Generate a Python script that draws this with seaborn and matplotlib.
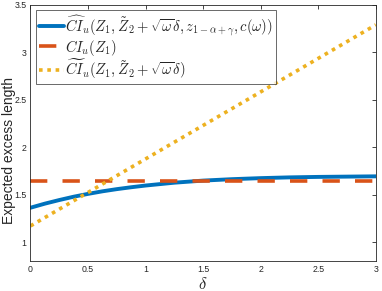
import numpy as np
import pandas as pd
import matplotlib
matplotlib.use("Agg")
import matplotlib.pyplot as plt
import seaborn as sns

delta_blue = [0, 0.125, 0.25, 0.375, 0.5, 0.625, 0.75, 0.875, 1.0, 1.25, 1.5, 1.75, 2.0, 2.25, 2.5, 2.75, 3.0]
ci_hat = [1.362, 1.405, 1.443, 1.478, 1.508, 1.535, 1.558, 1.578, 1.596, 1.626, 1.648, 1.663, 1.674, 1.682, 1.687, 1.690, 1.693]
delta_red = [0, 3]
ci_u = [1.645, 1.645]
delta_yel = [0, 1.5, 3]
ci_tilde = [1.17, 2.23, 3.29]

labels = [r"$\widehat{CI}_u(Z_1,\tilde{Z}_2+\sqrt{\omega}\delta,z_{1-\alpha+\gamma},c(\omega))$",
          r"$CI_u(Z_1)$",
          r"$\widetilde{CI}_u(Z_1,\tilde{Z}_2+\sqrt{\omega}\delta)$"]
colors = ["#0072BD", "#D95319", "#EDB120"]
xticks = [0, 0.5, 1, 1.5, 2, 2.5, 3]
yticks = [1, 1.5, 2, 2.5, 3, 3.5]

sns.set_style("white")
plt.rcParams["font.family"] = ["Liberation Sans", "DejaVu Sans"]
plt.rcParams["mathtext.fontset"] = "cm"

fig = plt.figure(figsize=(3.82, 2.91), dpi=100)
ax = fig.add_axes([0.0798, 0.103, 0.904, 0.880])

sns.lineplot(x=delta_blue, y=ci_hat, ax=ax, color=colors[0], lw=2.8, label=labels[0])
sns.lineplot(x=delta_red, y=ci_u, ax=ax, color=colors[1], lw=2.6, label=labels[1])
ax.lines[-1].set_dashes([4.8, 4.2])
sns.lineplot(x=delta_yel, y=ci_tilde, ax=ax, color=colors[2], lw=2.6, label=labels[2])
ax.lines[-1].set_dashes([1, 1.3])

ax.set_xlim(0, 3)
ax.set_ylim(0.8, 3.5)
ax.set_xticks(xticks)
ax.set_xticklabels([f"{t:g}" for t in xticks])
ax.set_yticks(yticks)
ax.set_yticklabels([f"{t:g}" for t in yticks])
ax.tick_params(direction="in", length=3, width=0.6, labelsize=6.3, colors="#262626",
               top=True, right=True, labelcolor="#262626", pad=3)
for s in ax.spines.values():
    s.set_visible(True)
    s.set_color("#262626")
    s.set_linewidth(0.6)

ax.set_xlabel(r"$\delta$", fontsize=12, labelpad=1)
ax.set_ylabel("Expected excess length", fontsize=10)
ax.yaxis.set_label_coords(-0.043, 0.43)

leg = ax.legend(loc="upper left", bbox_to_anchor=(0.016, 0.981), fontsize=10.5,
                frameon=True, fancybox=False, edgecolor="#262626", handlelength=1.7,
                handletextpad=0.1, borderpad=0.2, labelspacing=0.0, borderaxespad=0)
leg.get_frame().set_linewidth(0.6)

fig.savefig("out.png", dpi=100)
